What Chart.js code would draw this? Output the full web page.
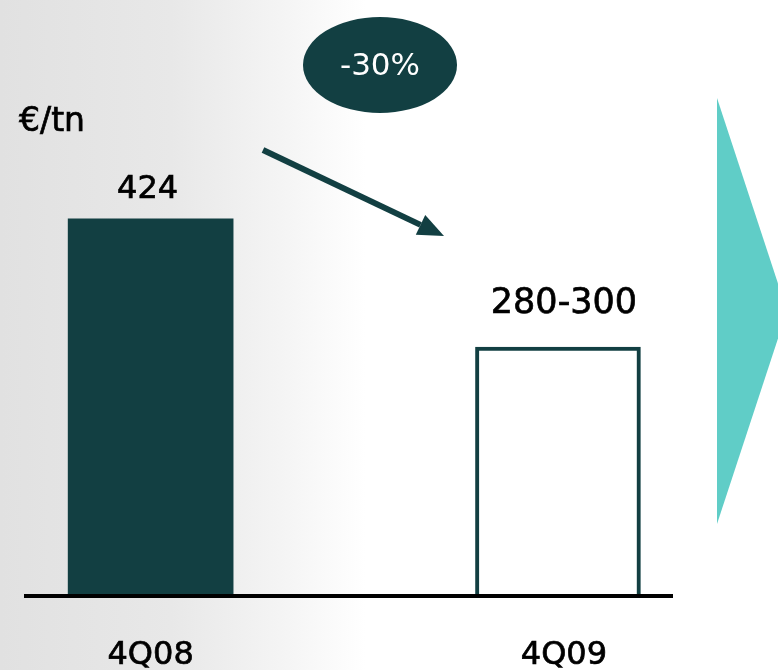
<!DOCTYPE html>
<html>
<head>
<meta charset="utf-8">
<script src="https://cdn.jsdelivr.net/npm/chart.js@4"></script>
<style>
  html, body { margin: 0; padding: 0; background: #fff; }
  #wrap { width: 778px; height: 670px; }
</style>
</head>
<body>
<div id="wrap"><canvas id="priceChart" width="778" height="670"></canvas></div>
<script>
const categories = ['4Q08', '4Q09'];
const prices = [424, 280];
const valueLabels = ['424', '280-300'];
const changeLabel = '-30%';
const unitLabel = '€/tn';

const darkTeal = '#123f42';
const lightTeal = '#60cdc7';
const fontFamily = '"DejaVu Sans", Verdana, sans-serif';

// label nudges relative to each bar (px), baselines measured from the bar top
const categoryShift = [0, 6];
const valueShift = [{ dx: -3, dy: 21, size: 32 }, { dx: 6, dy: 34, size: 35 }];

// text with a hairline outline so it reads a touch heavier than book weight
function heavyText(ctx, text, x, y) {
    ctx.fillText(text, x, y);
    ctx.strokeText(text, x, y);
}

const decorations = {
    id: 'decorations',
    beforeDraw(chart) {
        const ctx = chart.ctx;
        ctx.save();
        const bg = ctx.createLinearGradient(0, 0, chart.width, 0);
        bg.addColorStop(0, '#e1e1e1');
        bg.addColorStop(0.22, '#e8e8e8');
        bg.addColorStop(0.36, '#f4f4f4');
        bg.addColorStop(0.47, '#ffffff');
        bg.addColorStop(1, '#ffffff');
        ctx.fillStyle = bg;
        ctx.fillRect(0, 0, chart.width, chart.height);
        ctx.restore();
    },
    afterDraw(chart) {
        const ctx = chart.ctx;
        const meta = chart.getDatasetMeta(0);
        ctx.save();

        // right-hand pointer
        ctx.fillStyle = lightTeal;
        ctx.beginPath();
        ctx.moveTo(717, 98);
        ctx.lineTo(787, 311);
        ctx.lineTo(717, 524);
        ctx.closePath();
        ctx.fill();

        // trend arrow
        const x0 = 263, y0 = 150, x1 = 444, y1 = 236;
        const ang = Math.atan2(y1 - y0, x1 - x0);
        const head = 26, half = 11;
        ctx.strokeStyle = darkTeal;
        ctx.fillStyle = darkTeal;
        ctx.lineWidth = 6;
        ctx.beginPath();
        ctx.moveTo(x0, y0);
        ctx.lineTo(x1 - head * Math.cos(ang), y1 - head * Math.sin(ang));
        ctx.stroke();
        ctx.beginPath();
        ctx.moveTo(x1, y1);
        ctx.lineTo(x1 - head * Math.cos(ang) + half * Math.sin(ang), y1 - head * Math.sin(ang) - half * Math.cos(ang));
        ctx.lineTo(x1 - head * Math.cos(ang) - half * Math.sin(ang), y1 - head * Math.sin(ang) + half * Math.cos(ang));
        ctx.closePath();
        ctx.fill();

        // change bubble
        ctx.beginPath();
        ctx.ellipse(380, 65, 77, 48, 0, 0, Math.PI * 2);
        ctx.fill();
        ctx.fillStyle = '#ffffff';
        ctx.font = '31px ' + fontFamily;
        ctx.textAlign = 'center';
        ctx.textBaseline = 'alphabetic';
        ctx.fillText(changeLabel, 380, 75);

        // unit
        ctx.fillStyle = '#000000';
        ctx.strokeStyle = '#000000';
        ctx.lineWidth = 0.7;
        ctx.font = '33px ' + fontFamily;
        heavyText(ctx, unitLabel, 52, 131);

        // values above bars, categories below the axis
        meta.data.forEach((bar, i) => {
            ctx.font = valueShift[i].size + 'px ' + fontFamily;
            heavyText(ctx, valueLabels[i], bar.x + valueShift[i].dx, bar.y - valueShift[i].dy);
        });
        ctx.font = '32px ' + fontFamily;
        meta.data.forEach((bar, i) => {
            heavyText(ctx, categories[i], bar.x + categoryShift[i], chart.chartArea.bottom + 68);
        });
        ctx.restore();
    }
};

new Chart(document.getElementById('priceChart'), {
    type: 'bar',
    data: {
        datasets: [{
            data: prices.map((y, i) => ({ x: i, y: y })),
            backgroundColor: [darkTeal, '#ffffff'],
            borderColor: [darkTeal, darkTeal],
            borderWidth: [0, 4],
            barThickness: 165
        }]
    },
    options: {
        responsive: false,
        animation: false,
        layout: {
            padding: { left: 26, right: 106, top: 98, bottom: 66 }
        },
        plugins: {
            legend: { display: false },
            tooltip: { enabled: false }
        },
        scales: {
            x: {
                type: 'linear',
                offset: false,
                min: -0.306,
                max: 1.28,
                ticks: { display: false },
                grid: { display: false },
                border: { display: true, color: '#000000', width: 4, z: 1 }
            },
            y: {
                display: false,
                min: 0,
                max: 560
            }
        }
    },
    plugins: [decorations]
});
</script>
</body>
</html>
